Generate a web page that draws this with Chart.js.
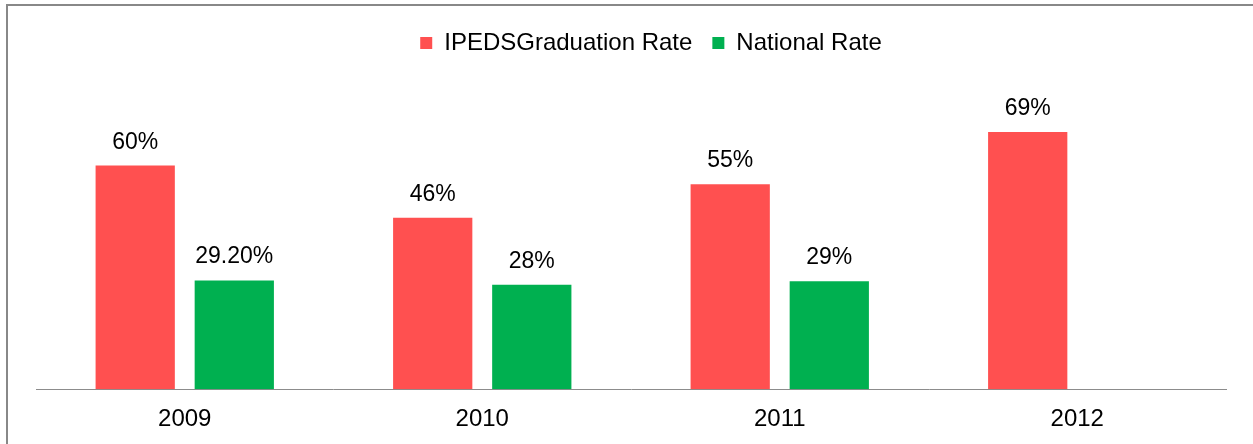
<!DOCTYPE html>
<html>
<head>
<meta charset="utf-8">
<script src="https://cdn.jsdelivr.net/npm/chart.js@4"></script>
<style>
  html, body { margin: 0; padding: 0; background: #fff; }
  #frame {
    position: absolute; left: 6px; top: 4px;
    width: 1245px; height: 438px;
    border-left: 2px solid #888; border-top: 2px solid #888;
  }
</style>
</head>
<body>
<div id="frame"><canvas id="chart" width="1245" height="438"></canvas></div>
<script>
const years = ["2009", "2010", "2011", "2012"];
const ipedsRate = [0.60, 0.46, 0.55, 0.69];
const nationalRate = [0.292, 0.28, 0.29, null];
const ipedsLabels = ["60%", "46%", "55%", "69%"];
const nationalLabels = ["29.20%", "28%", "29%", ""];

// labels above each bar
const barLabels = {
  id: "barLabels",
  afterDatasetsDraw(chart) {
    const ctx = chart.ctx;
    ctx.save();
    ctx.font = "23px 'Liberation Sans', Arial, sans-serif";
    ctx.fillStyle = "#000";
    ctx.textAlign = "center";
    ctx.textBaseline = "alphabetic";
    chart.data.datasets.forEach((ds, i) => {
      chart.getDatasetMeta(i).data.forEach((bar, j) => {
        if (ds.data[j] === null) return;
        ctx.fillText(ds.labelText[j], bar.x, bar.y - 17);
      });
    });
    ctx.restore();
  }
};

// legend sits a bit right of centre in the original
const legendShift = {
  id: "legendShift",
  afterLayout(chart) {
    chart.legend.left += 20;
    chart.legend.right += 20;
  }
};

new Chart(document.getElementById("chart").getContext("2d"), {
  type: "bar",
  data: {
    labels: years,
    datasets: [
      {
        label: "IPEDSGraduation Rate",
        data: ipedsRate,
        labelText: ipedsLabels,
        backgroundColor: "#FF5050",
        borderWidth: 0,
        barPercentage: 0.8,
        categoryPercentage: 0.666
      },
      {
        label: "National Rate",
        data: nationalRate,
        labelText: nationalLabels,
        backgroundColor: "#00B050",
        borderWidth: 0,
        barPercentage: 0.8,
        categoryPercentage: 0.666
      }
    ]
  },
  options: {
    responsive: false,
    animation: false,
    layout: { padding: { left: 28, right: 27, top: 5, bottom: 2 } },
    scales: {
      x: {
        grid: { display: false },
        border: { display: true, color: "#8c8c8c", width: 1 },
        ticks: {
          color: "#000",
          padding: 8,
          font: { family: "'Liberation Sans', Arial, sans-serif", size: 24 }
        }
      },
      y: {
        display: false,
        min: 0,
        max: 0.87
      }
    },
    plugins: {
      legend: {
        display: true,
        position: "top",
        labels: {
          boxWidth: 12,
          boxHeight: 12,
          padding: 20,
          color: "#000",
          font: { family: "'Liberation Sans', Arial, sans-serif", size: 24 }
        }
      },
      tooltip: { enabled: false }
    }
  },
  plugins: [barLabels, legendShift]
});
</script>
</body>
</html>
